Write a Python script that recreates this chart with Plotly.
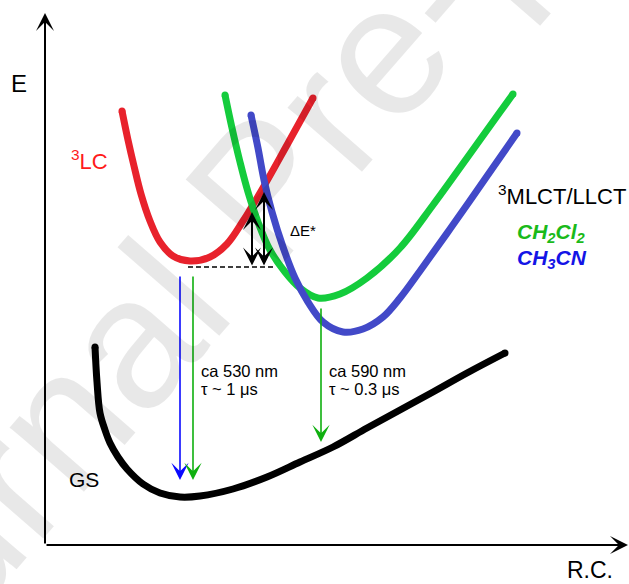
import plotly.graph_objects as go

# Potential-energy curves: reaction coordinate (R.C.) vs energy (E), arbitrary units
lc_rc = [77, 83, 89, 96, 105, 115, 128, 145, 165, 182, 198, 215, 242, 268]
lc_e = [434, 405, 379, 351, 324, 303, 289, 284, 288, 301, 324, 352, 400, 447]

ch2cl2_rc = [180, 187, 195, 203, 213, 225, 240, 255, 273, 295, 322, 355, 388, 422, 455, 468]
ch2cl2_e = [450, 417, 383, 353, 323, 295, 273, 257, 247, 251, 267, 297, 340, 387, 433, 451]

ch3cn_rc = [206, 213, 219, 227, 238, 250, 263, 278, 298, 318, 338, 355, 375, 405, 440, 472]
ch3cn_e = [430, 397, 365, 333, 298, 267, 243, 223, 213, 216, 228, 247, 274, 316, 366, 412]

gs_rc = [50, 52, 55, 60, 65, 73, 82, 98, 115, 135, 155, 188, 222, 255, 288, 322, 355, 388, 422, 460]
gs_e = [198, 163, 132, 115, 102, 88, 76, 61, 52, 48, 49, 56, 68, 83, 98, 117, 135, 153, 172, 192]

# Emission transitions: (rc, e_start, e_end, colour)
emissions = [
    (135, 270, 65, "#0a0aff"),
    (148, 270, 65, "#10b010"),
    (276, 238, 103, "#10b010"),
]
emission_labels = [
    (154, ["ca 530 nm", "τ ~ 1 μs"]),
    (282, ["ca 590 nm", "τ ~ 0.3 μs"]),
]

# Activation barrier from the 3LC minimum to the two crossing points
lc_min_e = 278
dash_rc = [143, 231]
barrier_rc = [207, 219]
barrier_top_e = [333, 353]

FONT = "Liberation Sans, Arial, sans-serif"
RED = "#e8222c"
GREEN = "#14cc3c"
BLUE = "#4249c8"

fig = go.Figure()


def curve(rc, e, color):
    fig.add_trace(go.Scatter(x=rc, y=e, mode="lines",
                             line=dict(color=color, width=7, shape="spline", smoothing=1.0),
                             hoverinfo="skip", showlegend=False))
    fig.add_trace(go.Scatter(x=[rc[0], rc[-1]], y=[e[0], e[-1]], mode="markers",
                             marker=dict(color=color, size=7, line=dict(width=0)),
                             hoverinfo="skip", showlegend=False))


curve(gs_rc, gs_e, "#000000")
curve(lc_rc, lc_e, RED)
curve(ch2cl2_rc, ch2cl2_e, GREEN)
curve(ch3cn_rc, ch3cn_e, BLUE)

fig.add_trace(go.Scatter(x=dash_rc, y=[lc_min_e, lc_min_e], mode="lines",
                         line=dict(color="#000000", width=1.4, dash="5px,3px"),
                         hoverinfo="skip", showlegend=False))

ann = []


def arrow(x0, y0, x1, y1, color, width, size, both=False):
    ann.append(dict(x=x1, y=y1, ax=x0, ay=y0, xref="x", yref="y", axref="x", ayref="y",
                    text="", showarrow=True, arrowhead=3, arrowsize=size, arrowwidth=width,
                    arrowcolor=color, arrowside="end+start" if both else "end",
                    startarrowhead=3, startarrowsize=size, standoff=0, startstandoff=0))


# axes
arrow(0, 0, 0, 532, "#000000", 2, 1.5)
arrow(0, 0, 583, 0, "#000000", 2, 1.5)

for rc, e0, e1, col in emissions:
    arrow(rc, e0, rc, e1, col, 1.6, 1.8)

for rc, top in zip(barrier_rc, barrier_top_e):
    arrow(rc, lc_min_e, rc, top, "#000000", 2, 1.5, both=True)


def label(x, y, text, size, color="#000000", xanchor="left", bold=False, italic=False):
    ann.append(dict(x=x, y=y, xref="x", yref="y", text=text, showarrow=False,
                    xanchor=xanchor, yanchor="middle",
                    font=dict(family=FONT, size=size, color=color,
                              weight="bold" if bold else "normal",
                              style="italic" if italic else "normal")))


label(-26, 462, "E", 24, xanchor="center")
label(545, -25, "R.C.", 23, xanchor="center")
label(24, 385, "<sup>3</sup>LC", 22, color="#ff1a1a")
label(451, 350, "<sup>3</sup>MLCT/LLCT", 22)
label(470, 312, "CH<sub>2</sub>Cl<sub>2</sub>", 21, color="#1aba1a", bold=True, italic=True)
label(470, 286, "CH<sub>3</sub>CN", 21, color="#1414e6", bold=True, italic=True)
label(243, 315, "ΔE*", 15)
label(22, 66, "GS", 21)
for x, lines in emission_labels:
    label(x, 174, lines[0], 16.5)
    label(x, 156, lines[1], 16.5)

# translucent diagonal watermark
ann.append(dict(x=215, y=355, xref="x", yref="y", text="Journal Pre-proof", showarrow=False,
                textangle=-49, xanchor="center", yanchor="middle",
                font=dict(family=FONT, size=186, color="rgba(0,0,0,0.09)")))

fig.update_layout(
    width=629, height=584,
    margin=dict(l=0, r=0, t=0, b=0),
    paper_bgcolor="white", plot_bgcolor="white",
    xaxis=dict(range=[-45, 584], visible=False, fixedrange=True),
    yaxis=dict(range=[-39, 545], visible=False, fixedrange=True),
    annotations=ann,
    showlegend=False,
)

fig.write_html("out.html")
